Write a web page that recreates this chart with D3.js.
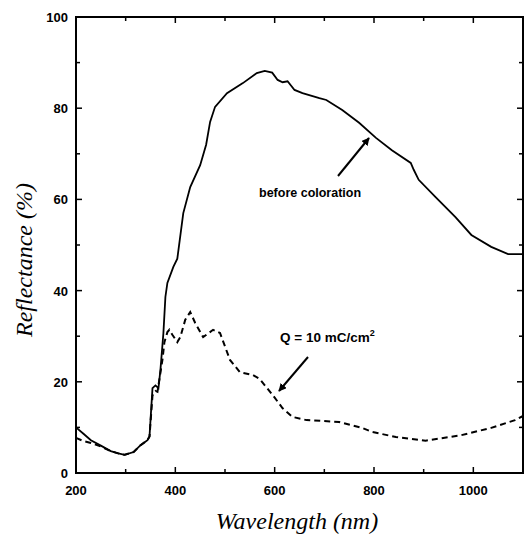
<!DOCTYPE html>
<html>
<head>
<meta charset="utf-8">
<script src="https://cdn.jsdelivr.net/npm/d3@7.9.0/dist/d3.min.js"></script>
<style>
  body { margin: 0; background: #fff; }
  svg { display: block; }
  .tick-label { font-family: "Liberation Sans", Arial, sans-serif; font-weight: bold; font-size: 13px; }
  .axis-title { font-family: "Liberation Serif", "Times New Roman", serif; font-style: italic; font-size: 24px; }
  .note { font-family: "Liberation Sans", Arial, sans-serif; font-weight: bold; font-size: 12.5px; }
</style>
</head>
<body>
<svg id="chart" width="525" height="538"></svg>
<script>
// solid curve: before coloration
const beforeWl = [200, 215, 230, 250, 270, 285, 298, 316, 330, 344, 348, 354, 360, 366, 370, 376, 380, 384, 396, 404, 416, 430, 450, 462, 470, 480, 504, 536, 564, 580, 595, 606, 616, 626, 640, 656, 690, 704, 736, 770, 804, 836, 874, 880, 890, 924, 964, 996, 1036, 1070, 1100];
const beforeR  = [10, 8.6, 7.2, 6, 4.8, 4.3, 4.0, 4.6, 6.1, 7.2, 8, 18.6, 19.2, 18.6, 22.6, 30.7, 38.6, 41.7, 45.2, 47, 57, 62.7, 67.5, 72, 77, 80.3, 83.3, 85.5, 87.7, 88.2, 87.8, 86.2, 85.7, 85.9, 84, 83.3, 82.2, 81.8, 79.6, 76.8, 73.5, 70.8, 68, 66.5, 64.3, 60.5, 56.1, 52.2, 49.6, 48, 48];

// dashed curve: Q = 10 mC/cm2
const colouredWl = [200, 215, 230, 250, 270, 285, 298, 316, 330, 344, 348, 354, 360, 364, 374, 378, 384, 388, 394, 404, 410, 420, 430, 440, 456, 476, 490, 510, 530, 556, 570, 596, 616, 636, 664, 730, 776, 796, 844, 904, 976, 1036, 1084, 1100];
const colouredR  = [7.7, 7, 6.6, 5.8, 4.8, 4.3, 4.0, 4.6, 6.1, 7.2, 8, 17, 18, 17.8, 24.8, 28.7, 30.9, 31.4, 30.3, 28.7, 29.8, 33.6, 35.3, 32.9, 29.8, 31.4, 30.7, 24.8, 22.1, 21.5, 20.6, 17.1, 14.2, 12.3, 11.6, 11.2, 9.9, 9.0, 7.9, 7.1, 8.3, 9.9, 11.6, 12.5];

const xTicks = [200, 400, 600, 800, 1000];
const xMinor = [300, 500, 700, 900, 1100];
const yTicks = [0, 20, 40, 60, 80, 100];
const yMinor = [10, 30, 50, 70, 90];

const svg = d3.select('#chart');
const plotL = 76, plotR = 523, plotT = 17, plotB = 473;

const x = d3.scaleLinear().domain([200, 1100]).range([plotL, plotR]);
const y = d3.scaleLinear().domain([0, 100]).range([plotB, plotT]);

// arrow marker
svg.append('defs').append('marker')
  .attr('id', 'head')
  .attr('viewBox', '0 0 10 10')
  .attr('refX', 9).attr('refY', 5)
  .attr('markerWidth', 4).attr('markerHeight', 4)
  .attr('orient', 'auto')
  .append('path').attr('d', 'M0,0 L10,5 L0,10 z').attr('fill', '#000');

// frame
svg.append('rect')
  .attr('x', plotL).attr('y', plotT)
  .attr('width', plotR - plotL).attr('height', plotB - plotT)
  .attr('fill', 'none').attr('stroke', '#000').attr('stroke-width', 2);

// ticks on all four sides, pointing inward
const tickG = svg.append('g').attr('stroke', '#000').attr('stroke-width', 1.5);
function xTick(v, len) {
  tickG.append('line').attr('x1', x(v)).attr('x2', x(v)).attr('y1', plotB).attr('y2', plotB - len);
  tickG.append('line').attr('x1', x(v)).attr('x2', x(v)).attr('y1', plotT).attr('y2', plotT + len);
}
function yTick(v, len) {
  tickG.append('line').attr('y1', y(v)).attr('y2', y(v)).attr('x1', plotL).attr('x2', plotL + len);
  tickG.append('line').attr('y1', y(v)).attr('y2', y(v)).attr('x1', plotR).attr('x2', plotR - len);
}
xTicks.forEach(v => xTick(v, 6));
xMinor.forEach(v => xTick(v, 4));
yTicks.forEach(v => yTick(v, 6));
yMinor.forEach(v => yTick(v, 4));

svg.selectAll('.xl').data(xTicks).enter().append('text')
  .attr('class', 'tick-label')
  .attr('x', d => x(d)).attr('y', plotB + 22)
  .attr('text-anchor', 'middle')
  .text(d => d);

svg.selectAll('.yl').data(yTicks).enter().append('text')
  .attr('class', 'tick-label')
  .attr('x', plotL - 8).attr('y', d => y(d) + 5)
  .attr('text-anchor', 'end')
  .text(d => d);

// axis titles
svg.append('text').attr('class', 'axis-title')
  .attr('x', 297).attr('y', 529)
  .attr('text-anchor', 'middle')
  .text('Wavelength (nm)');

svg.append('text').attr('class', 'axis-title')
  .attr('transform', 'translate(32,260) rotate(-90)')
  .attr('text-anchor', 'middle')
  .text('Reflectance (%)');

// curves
const line = d3.line().x(d => x(d[0])).y(d => y(d[1]));

svg.append('path')
  .datum(d3.zip(colouredWl, colouredR))
  .attr('d', line)
  .attr('fill', 'none').attr('stroke', '#000')
  .attr('stroke-width', 2).attr('stroke-dasharray', '6,4');

svg.append('path')
  .datum(d3.zip(beforeWl, beforeR))
  .attr('d', line)
  .attr('fill', 'none').attr('stroke', '#000')
  .attr('stroke-width', 1.8);

// annotations
svg.append('text').attr('class', 'note')
  .attr('x', 259).attr('y', 197)
  .text('before coloration');

svg.append('line')
  .attr('x1', 338).attr('y1', 176).attr('x2', 369).attr('y2', 138)
  .attr('stroke', '#000').attr('stroke-width', 2)
  .attr('marker-end', 'url(#head)');

const q = svg.append('text').attr('class', 'note')
  .attr('x', 280).attr('y', 342)
  .style('font-size', '13.5px');
q.append('tspan').text('Q = 10 mC/cm');
q.append('tspan').attr('dy', -6).attr('font-size', 9).text('2');

svg.append('line')
  .attr('x1', 308).attr('y1', 357).attr('x2', 279).attr('y2', 391)
  .attr('stroke', '#000').attr('stroke-width', 2)
  .attr('marker-end', 'url(#head)');
</script>
</body>
</html>
